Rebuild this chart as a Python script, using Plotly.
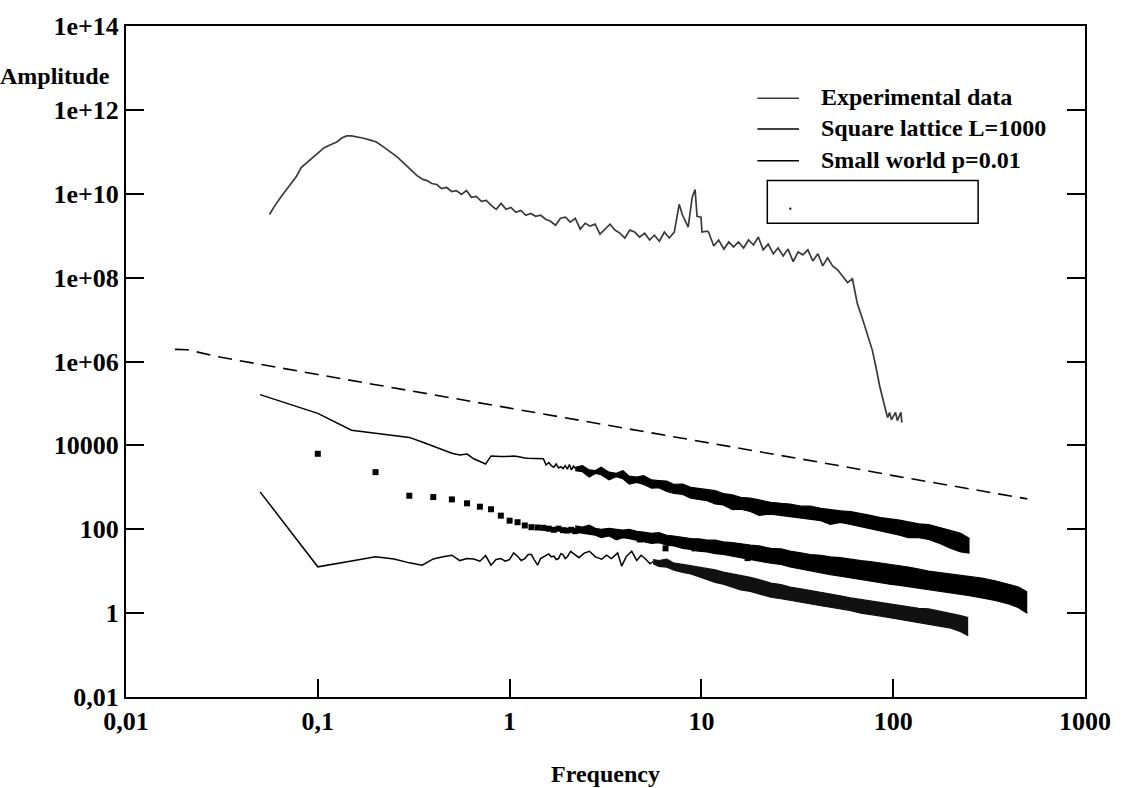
import plotly.graph_objects as go

# ---------------- data ----------------
# Experimental spectrum
exp_freq = [0.056, 0.0594, 0.0646, 0.0686, 0.0727, 0.0773, 0.0819, 0.0879, 0.0955, 0.1014,
            0.1076, 0.1156, 0.1256, 0.1334, 0.1416, 0.150, 0.159, 0.171, 0.188, 0.202,
            0.220, 0.239, 0.259, 0.279, 0.296, 0.313, 0.329, 0.353, 0.371, 0.393,
            0.417, 0.442, 0.47, 0.499, 0.528, 0.561, 0.596, 0.632, 0.671, 0.712,
            0.755, 0.802, 0.851, 0.903, 0.958, 1.016, 1.078, 1.145, 1.215, 1.289,
            1.368, 1.452, 1.541, 1.635, 1.735, 1.841, 1.954, 2.073, 2.20, 2.335,
            2.478, 2.63, 2.79, 2.96, 3.14, 3.34, 3.54, 3.76, 3.99, 4.23,
            4.49, 4.76, 5.06, 5.37, 5.69, 6.04, 6.41, 6.80, 7.22, 7.66,
            7.94, 8.53, 8.95, 9.27, 9.49, 9.95, 10.07, 10.7, 10.9, 11.6,
            12.3, 13.1, 13.9, 14.7, 15.6, 16.6, 17.6, 18.7, 19.8, 21.0,
            22.3, 23.7, 25.1, 26.7, 28.3, 30.1, 31.9, 33.8, 35.9, 38.1,
            40.5, 42.9, 45.5, 48.3, 51.3, 54.4, 57.8, 61.3, 65.0, 69.0,
            73.3, 77.8, 81.1, 85.0, 91.2, 93.5, 95.7, 98.0, 102.8, 105.1,
            109.7, 111]
exp_amp = [3.2e9, 5.0e9, 8.7e9, 1.26e10, 1.85e10, 2.56e10, 4.2e10, 5.5e10, 7.6e10, 1.0e11,
           1.24e11, 1.46e11, 1.72e11, 2.14e11, 2.4e11, 2.4e11, 2.3e11, 2.14e11, 1.9e11, 1.72e11,
           1.31e11, 1.0e11, 7.6e10, 5.5e10, 4.2e10, 3.2e10, 2.7e10, 2.2e10, 2.06e10, 1.75e10,
           1.66e10, 1.33e10, 1.41e10, 1.13e10, 1.19e10, 9.6e9, 1.19e10, 8.2e9, 8.6e9, 6.6e9,
           6.9e9, 5.3e9, 4.25e9, 5.9e9, 4.25e9, 4.7e9, 3.6e9, 4.0e9, 3.07e9, 3.4e9,
           2.9e9, 3.07e9, 2.47e9, 2.2e9, 1.78e9, 2.6e9, 2.75e9, 2.1e9, 2.6e9, 1.43e9,
           1.98e9, 1.69e9, 1.88e9, 1.09e9, 1.43e9, 1.88e9, 1.36e9, 1.15e9, 8.8e8, 1.36e9,
           1.22e9, 9.3e8, 1.15e9, 7.9e8, 1.03e9, 7.4e8, 1.22e9, 8.8e8, 1.22e9, 5.6e9,
           3.24e9, 1.6e9, 8.2e9, 1.26e10, 2.9e9, 2.75e9, 1.22e9, 1.28e9, 1.22e9, 5.7e8,
           7.9e8, 4.8e8, 7.1e8, 5.4e8, 7.1e8, 5.1e8, 7.9e8, 6.0e8, 9.3e8, 4.6e8,
           6.3e8, 3.7e8, 5.1e8, 3.3e8, 4.8e8, 2.4e8, 4.1e8, 3.5e8, 4.6e8, 2.5e8,
           3.7e8, 1.9e8, 2.95e8, 1.9e8, 1.54e8, 1.1e8, 7.6e7, 9.4e7, 2.4e7, 1.07e7,
           4.7e6, 1.87e6, 7.8e5, 2.6e5, 7.1e4, 4.6e4, 6.1e4, 4.1e4, 6.1e4, 3.9e4,
           6.1e4, 3.5e4]

# Power-law reference (dashed)
ref_freq = [0.018, 0.021, 0.03, 0.05, 0.1, 0.2, 0.5, 1, 2, 5, 10, 20, 50, 100, 200, 500]
ref_amp = [1.95e6, 1.9e6, 1.3e6, 8.5e5, 4.9e5, 2.8e5, 1.35e5, 7.8e4, 4.5e4, 2.1e4,
           1.2e4, 7.0e3, 3.4e3, 1.9e3, 1.1e3, 530]

# Upper simulated spectrum: resolved low-frequency part
up_freq = [0.05, 0.1, 0.15, 0.2, 0.25, 0.3, 0.35, 0.4, 0.45, 0.5,
           0.55, 0.6, 0.65, 0.7, 0.75, 0.8, 0.85, 0.9, 0.95, 1.0,
           1.05, 1.1, 1.15, 1.2, 1.25, 1.3, 1.35, 1.4, 1.45, 1.5,
           1.55, 1.6, 1.65, 1.7, 1.75, 1.8, 1.85, 1.9, 1.95, 2.0,
           2.05, 2.1, 2.15, 2.2]
up_amp = [1.62e5, 5.8e4, 2.3e4, 1.95e4, 1.75e4, 1.55e4, 1.2e4, 9.5e3, 7.7e3, 6.5e3,
          5.9e3, 6.2e3, 4.8e3, 4.2e3, 3.6e3, 5.6e3, 5.4e3, 5.4e3, 5.4e3, 5.5e3,
          5.6e3, 5.4e3, 5.3e3, 5.0e3, 4.9e3, 4.9e3, 4.9e3, 4.9e3, 4.8e3, 4.8e3,
          3.4e3, 3.9e3, 3.3e3, 3.0e3, 3.6e3, 2.9e3, 3.1e3, 2.8e3, 3.3e3, 2.7e3,
          3.5e3, 2.6e3, 3.2e3, 2.8e3]
# Upper simulated spectrum: dense high-frequency part, upper / lower envelope
up_band_freq = [2.2, 2.4, 2.6, 2.8, 3.0, 3.3, 3.6, 3.9, 4.2, 4.6,
                5.0, 5.5, 6.0, 6.6, 7.2, 8.0, 8.8, 9.7, 10.7, 11.8,
                13, 14.5, 16, 18, 20, 23, 26, 29, 33, 37,
                42, 47, 53, 60, 68, 76, 86, 96, 108, 120,
                136, 153, 175, 200, 225, 250]
up_band_top = [3.0e3, 3.3e3, 2.6e3, 2.5e3, 3.0e3, 2.3e3, 2.15e3, 2.5e3, 1.85e3, 1.75e3,
               1.9e3, 1.5e3, 1.45e3, 1.4e3, 1.17e3, 1.2e3, 1.0e3, 950, 890, 830,
               710, 660, 575, 550, 500, 440, 415, 400, 355, 355,
               315, 290, 275, 265, 240, 215, 190, 180, 165, 150,
               135, 130, 112, 93, 80, 60]
up_band_bot = [2.5e3, 2.35e3, 1.75e3, 2.15e3, 2.0e3, 1.5e3, 1.8e3, 1.6e3, 1.2e3, 1.3e3,
               1.17e3, 950, 980, 800, 720, 680, 550, 520, 480, 400,
               380, 295, 300, 265, 215, 230, 215, 200, 185, 170,
               160, 130, 145, 130, 115, 100, 91, 80, 72, 63,
               63, 57, 46, 35, 29, 27]

# Square-marker spectrum: resolved points
sq_freq = [0.1, 0.2, 0.3, 0.4, 0.5, 0.6, 0.7, 0.8, 0.9, 1.0, 1.1,
           1.2, 1.3, 1.4, 1.5, 1.6, 1.7, 1.8, 1.9, 2.0, 2.1, 2.2,
           4.77, 6.5, 9.2, 17.4]
sq_amp = [6.3e3, 2.3e3, 630, 585, 515, 415, 345, 300, 211, 160, 147,
          123, 112, 110, 108, 103, 97, 103, 95, 93, 97, 90,
          57, 35, 35, 20.5]
# Square-marker spectrum: dense part, upper / lower envelope
sq_band_freq = [2.2, 2.4, 2.6, 2.8, 3.0, 3.3, 3.6, 3.9, 4.2, 4.6,
                5.0, 5.5, 6.0, 6.6, 7.2, 8.0, 8.8, 9.7, 10.7, 11.8,
                13, 14.5, 16, 18, 20, 23, 26, 29, 33, 37,
                42, 47, 53, 60, 68, 76, 86, 96, 108, 120,
                136, 153, 175, 200, 225, 250, 290, 340, 400, 450, 500]
sq_band_top = [120, 112, 126, 105, 100, 105, 100, 95, 100, 89,
               85, 80, 83, 72, 69, 63, 60, 59, 55, 55,
               50, 48, 46, 42, 40, 35, 34, 30, 27.5, 25,
               24, 22, 21, 19, 17.8, 17, 15.8, 14.8, 13.8, 12.6,
               11.2, 10, 9.3, 8.5, 7.9, 7.6, 6.8, 5.9, 4.9, 4.2, 3.2]
sq_band_bot = [85, 80, 76, 72, 63, 69, 56, 63, 60, 55,
               52, 46, 48, 42, 40, 35, 33, 30, 29, 26,
               25, 23, 21, 19, 17.4, 15.5, 14.5, 12.6, 11.2, 10,
               9.1, 8.3, 7.6, 6.9, 6.3, 5.8, 5.4, 4.9, 4.6, 4.3,
               4.0, 3.7, 3.4, 3.1, 2.8, 2.6, 2.3, 2.0, 1.66, 1.35, 1.0]

# Lower simulated spectrum: resolved low-frequency part
lo_freq = [0.05, 0.1, 0.15, 0.2, 0.25, 0.3, 0.35, 0.4, 0.45, 0.5,
           0.55, 0.6, 0.65, 0.7, 0.75, 0.8, 0.85, 0.9, 0.95, 1.0,
           1.05, 1.1, 1.15, 1.2, 1.25, 1.3, 1.35, 1.4, 1.45, 1.5,
           1.55, 1.6, 1.65, 1.7, 1.75, 1.8, 1.85, 1.9, 1.95, 2.0,
           2.08, 2.19, 2.3, 2.45, 2.61, 2.8, 3.02, 3.2, 3.4, 3.66,
           3.84, 4.05, 4.33, 4.6, 4.85, 5.13, 5.4, 5.6]
lo_amp = [780, 12.7, 17.5, 22, 19.6, 15.8, 13.9, 19.6, 22, 24,
          17.9, 20, 19.5, 17.3, 23.6, 13.9, 19, 20, 17.3, 19,
          27.2, 22.7, 18, 20, 25, 24.9, 18, 13.9, 20, 21.5,
          24, 25.8, 22, 23, 19, 20, 26, 24.9, 20, 22,
          29.8, 25.3, 21, 27, 29.8, 22, 19.3, 24, 20, 27.2,
          13.2, 22, 29.8, 18, 24, 19.3, 15, 17]
# Lower simulated spectrum: dense part, upper / lower envelope
lo_band_freq = [5.6, 6.0, 6.6, 7.2, 8.0, 8.8, 9.7, 10.7, 11.8, 13,
                14.5, 16, 18, 20, 23, 26, 29, 33, 37, 42,
                47, 53, 60, 68, 76, 86, 96, 108, 120, 136,
                153, 175, 200, 225, 246]
lo_band_top = [19, 18, 19.5, 15.5, 14.5, 13.5, 12.6, 11.5, 10.7, 9.5,
               8.7, 7.9, 7.1, 6.3, 5.2, 4.8, 4.2, 3.8, 3.5, 3.2,
               2.9, 2.6, 2.3, 2.1, 2.0, 1.8, 1.66, 1.5, 1.4, 1.3,
               1.26, 1.12, 1.0, 0.87, 0.78]
lo_band_bot = [15, 13, 12.5, 10.5, 9.3, 8.6, 7.4, 6.4, 5.4, 4.9,
               4.2, 3.6, 3.3, 2.9, 2.4, 2.2, 2.0, 1.8, 1.66, 1.5,
               1.38, 1.26, 1.15, 1.0, 0.91, 0.85, 0.78, 0.71, 0.66, 0.6,
               0.55, 0.5, 0.44, 0.36, 0.29]

x_tickvals = [0.01, 0.1, 1, 10, 100, 1000]
x_ticktext = ["0,01", "0,1", "1", "10", "100", "1000"]
y_tickvals = [0.01, 1, 100, 1e4, 1e6, 1e8, 1e10, 1e12, 1e14]
y_ticktext = ["0,01", "1", "100", "10000", "1e+06", "1e+08", "1e+10", "1e+12", "1e+14"]

legend_labels = ["Experimental data", "Square lattice L=1000", "Small world p=0.01"]

# ---------------- figure ----------------
FONT = "Liberation Serif"
INK = "black"
GREY = "#3a3a3a"
W, H = 1123, 788
L, R, T, B = 126, 28, 20, 91
PW, PH = W - L - R, H - T - B


def px(x):
    return (x - L) / PW


def py(y):
    return 1 - (y - T) / PH


fig = go.Figure()


def band(freq, top, bot, color):
    fig.add_trace(go.Scatter(x=freq, y=bot, mode="lines",
                             line=dict(color=color, width=1.2), hoverinfo="skip"))
    fig.add_trace(go.Scatter(x=freq, y=top, mode="lines", fill="tonexty",
                             fillcolor=color, line=dict(color=color, width=1.2),
                             hoverinfo="skip"))


fig.add_trace(go.Scatter(x=ref_freq, y=ref_amp, mode="lines",
                         line=dict(color=INK, width=1.6, dash="14px,8px")))

fig.add_trace(go.Scatter(x=up_freq, y=up_amp, mode="lines",
                         line=dict(color=INK, width=1.5)))
band(up_band_freq, up_band_top, up_band_bot, INK)

fig.add_trace(go.Scatter(x=sq_freq, y=sq_amp, mode="markers",
                         marker=dict(symbol="square", size=6, color=INK)))
band(sq_band_freq, sq_band_top, sq_band_bot, INK)

fig.add_trace(go.Scatter(x=lo_freq, y=lo_amp, mode="lines",
                         line=dict(color=INK, width=1.5)))
band(lo_band_freq, lo_band_top, lo_band_bot, "#111111")

fig.add_trace(go.Scatter(x=exp_freq, y=exp_amp, mode="lines",
                         line=dict(color=GREY, width=1.7)))

axis_common = dict(
    type="log", showgrid=False, zeroline=False, showline=True,
    linecolor=INK, linewidth=2, ticks="inside", ticklen=18, tickwidth=2,
    tickcolor=INK, tickfont=dict(family=FONT, size=26, color=INK, weight="bold"),
)
fig.update_xaxes(range=[-2, 3], tickvals=x_tickvals, ticktext=x_ticktext,
                 mirror=True, **axis_common)
fig.update_yaxes(range=[-2, 14], tickvals=y_tickvals, ticktext=y_ticktext,
                 mirror="ticks", **axis_common)

# axis titles
fig.add_annotation(x=px(112), y=py(70), xref="paper", yref="paper", text="Amplitude",
                   showarrow=False, xanchor="right", yanchor="middle",
                   font=dict(family=FONT, size=24, color=INK, weight="bold"))
fig.add_annotation(x=0.5, y=py(775), xref="paper", yref="paper", text="Frequency",
                   showarrow=False, xanchor="center", yanchor="middle",
                   font=dict(family=FONT, size=24, color=INK, weight="bold"))

# legend block
legend_rows = [92, 123, 155]
legend_colors = [GREY, INK, INK]
for label, yy, col in zip(legend_labels, legend_rows, legend_colors):
    fig.add_shape(type="line", xref="paper", yref="paper",
                  x0=px(764), x1=px(806), y0=py(yy + 1), y1=py(yy + 1),
                  line=dict(color=col, width=1.5))
    fig.add_annotation(x=px(826), y=py(yy), xref="paper", yref="paper", text=label,
                       showarrow=False, xanchor="left", yanchor="middle",
                       font=dict(family=FONT, size=24, color=INK, weight="bold"))
fig.add_shape(type="rect", xref="paper", yref="paper",
              x0=px(774), x1=px(987), y0=py(219), y1=py(176),
              line=dict(color=INK, width=1.5), fillcolor="white")
fig.add_shape(type="rect", xref="paper", yref="paper",
              x0=px(796.5), x1=px(798), y0=py(205), y1=py(203.5),
              line=dict(color=INK, width=0.5), fillcolor=INK)

fig.update_layout(
    width=W, height=H, margin=dict(l=L, r=R, t=T, b=B),
    paper_bgcolor="white", plot_bgcolor="white", showlegend=False,
    font=dict(family=FONT, color=INK),
)

fig.write_html("out.html")
